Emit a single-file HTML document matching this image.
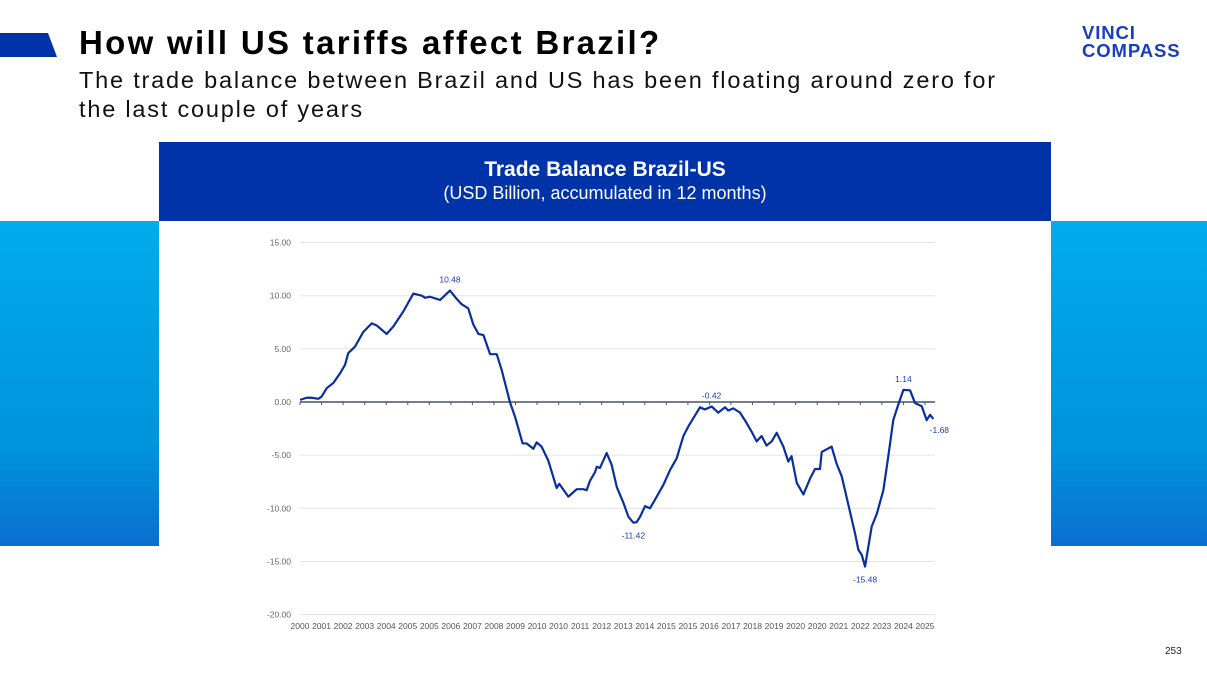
<!DOCTYPE html>
<html><head><meta charset="utf-8"><style>
body{margin:0;width:1207px;height:679px;overflow:hidden;background:#fff;font-family:"Liberation Sans",sans-serif;position:relative}
.abs{position:absolute}
</style></head><body>
<div class="abs" style="left:0;top:33px;width:57px;height:24px;background:#0033a8;clip-path:polygon(0 0,48px 0,57px 24px,0 24px)"></div>
<div class="abs" style="left:79px;top:24px;font-size:33px;font-weight:bold;color:#000;white-space:nowrap;letter-spacing:2.3px">How will US tariffs affect Brazil?</div>
<div class="abs" style="left:79px;top:66px;font-size:23.5px;line-height:29px;color:#111;white-space:nowrap;letter-spacing:1.8px">The trade balance between Brazil and US has been floating around zero for<br>the last couple of years</div>
<div class="abs" style="left:1082px;top:24px;font-size:18.5px;line-height:18px;font-weight:bold;color:#1a3cc0;letter-spacing:0.9px">VINCI<br>COMPASS</div>
<div class="abs" style="left:0;top:221px;width:159px;height:325px;background:linear-gradient(#00acec,#0093dc 70%,#0a6fd0)"></div>
<div class="abs" style="left:1051px;top:221px;width:156px;height:325px;background:linear-gradient(#00acec,#0093dc 70%,#0a6fd0)"></div>
<div class="abs" style="left:159px;top:142px;width:892px;height:79px;background:#0033a8;color:#fff;text-align:center">
<div style="font-size:21px;font-weight:bold;margin-top:16px">Trade Balance Brazil-US</div>
<div style="font-size:18px;margin-top:1px">(USD Billion, accumulated in 12 months)</div></div>
<div class="abs" style="left:1165px;top:646px;font-size:10px;color:#222">253</div>
<svg class="abs" style="left:0;top:0" width="1207" height="679" id="chart"></svg>
<script>
const yTicks=[15,10,5,0,-5,-10,-15,-20];
const xLabels=["2000","2001","2002","2003","2004","2005","2005","2006","2007","2008","2009","2010","2010","2011","2012","2013","2014","2015","2015","2016","2017","2018","2019","2020","2020","2021","2022","2023","2024","2025"];
const times=[0,0.31,0.54,0.85,1.0,1.24,1.55,1.86,2.09,2.24,2.55,2.94,3.33,3.56,4.02,4.33,4.79,5.26,5.65,5.80,6.03,6.50,6.96,7.27,7.50,7.81,8.04,8.28,8.51,8.82,9.13,9.36,9.74,9.98,10.33,10.52,10.83,10.98,11.21,11.52,11.91,12.03,12.45,12.68,12.84,13.15,13.30,13.46,13.69,13.77,13.92,14.23,14.46,14.70,15.01,15.24,15.47,15.62,15.78,16.01,16.24,16.47,16.86,17.17,17.48,17.79,18.02,18.56,18.79,19.10,19.41,19.72,19.87,20.11,20.42,20.73,20.96,21.19,21.42,21.65,21.89,22.12,22.43,22.66,22.81,23.05,23.36,23.67,23.90,24.13,24.21,24.67,24.90,25.14,25.45,25.76,25.91,26.07,26.22,26.53,26.77,27.07,27.30,27.53,27.77,28.0,28.31,28.54,28.85,29.08,29.24,29.39];
const values=[0.2,0.4,0.4,0.3,0.5,1.3,1.8,2.7,3.5,4.6,5.2,6.6,7.4,7.2,6.4,7.1,8.5,10.2,10.0,9.8,9.9,9.6,10.48,9.7,9.2,8.8,7.3,6.4,6.3,4.5,4.5,3.0,0.0,-1.4,-3.9,-3.9,-4.4,-3.8,-4.2,-5.5,-8.1,-7.7,-8.9,-8.5,-8.2,-8.2,-8.3,-7.4,-6.6,-6.1,-6.2,-4.8,-5.9,-8.0,-9.5,-10.8,-11.35,-11.3,-10.8,-9.8,-10.0,-9.2,-7.8,-6.4,-5.3,-3.2,-2.3,-0.5,-0.7,-0.42,-1.0,-0.5,-0.8,-0.6,-1.0,-2.0,-2.8,-3.7,-3.2,-4.1,-3.7,-2.9,-4.2,-5.6,-5.1,-7.6,-8.7,-7.2,-6.3,-6.3,-4.7,-4.2,-5.8,-7.0,-9.7,-12.4,-13.9,-14.4,-15.48,-11.7,-10.5,-8.3,-5.1,-1.7,-0.2,1.14,1.1,-0.1,-0.4,-1.7,-1.2,-1.6];
const annotations=[{i:22,text:"10.48",dy:-8},{i:56,text:"-11.42",dy:16},{i:69,text:"-0.42",dy:-8},{i:98,text:"-15.48",dy:16},{i:105,text:"1.14",dy:-8},{i:111,text:"-1.68",dy:14}];
const NS="http://www.w3.org/2000/svg";
const svg=document.getElementById('chart');
const X0=300,X1=935,DX=21.55;
const Y=v=>402-v*10.63;
const Xt=t=>X0+t*DX;
function mk(tag,attrs){const e=document.createElementNS(NS,tag);for(const k in attrs)e.setAttribute(k,attrs[k]);svg.appendChild(e);return e;}
yTicks.forEach(v=>{
 const l=mk('line',{x1:X0,x2:X1,y1:Y(v),y2:Y(v),stroke:v===0?'#44546a':'#e4e4e4','stroke-width':v===0?1.5:1});
 
 
 const t=mk('text',{x:291,y:Y(v)+3,'text-anchor':'end','font-size':8.5,fill:'#666','font-family':'Liberation Sans, sans-serif'});
 t.textContent=v.toFixed(2);
 
 
});
xLabels.forEach((s,i)=>{
 const tk=mk('line',{x1:Xt(i),x2:Xt(i),y1:402,y2:405,stroke:'#44546a','stroke-width':1});
 
 
 const t=mk('text',{x:Xt(i),y:629,'text-anchor':'middle','font-size':8.5,fill:'#555','font-family':'Liberation Sans, sans-serif'});
 t.textContent=s;
 
 
});
const p=mk('polyline',{points:times.map((t,i)=>Xt(t)+','+Y(values[i])).join(' '),fill:'none',stroke:'#0a2ea0','stroke-width':2.2,'stroke-linejoin':'round'});


annotations.forEach(a=>{
 const t=mk('text',{x:Xt(times[a.i])+(a.i===111?6:0),y:Y(values[a.i])+a.dy,'text-anchor':'middle','font-size':8.5,fill:'#1a3cb0','font-family':'Liberation Sans, sans-serif'});
 t.textContent=a.text;
 
 
});
</script>
</body></html>
